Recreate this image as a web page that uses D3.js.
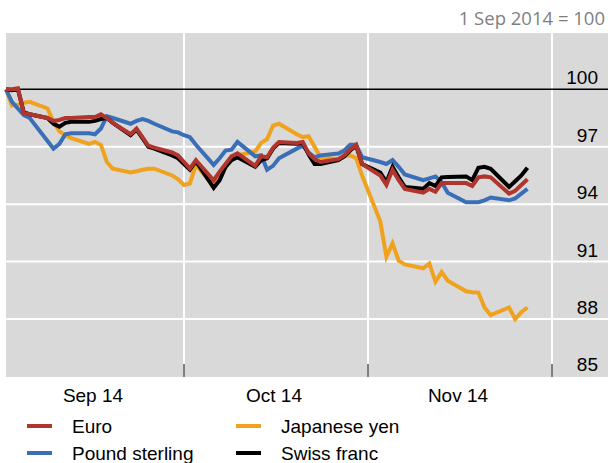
<!DOCTYPE html>
<html>
<head>
<meta charset="utf-8">
<script src="https://cdn.jsdelivr.net/npm/d3@7"></script>
<style>
  body { margin: 0; background: #fff; }
  svg { display: block; font-family: "Liberation Sans", Arial, sans-serif; }
</style>
</head>
<body>
<svg id="chart" width="608" height="463"></svg>
<script>
// business days, 1 Sep 2014 to 27 Nov 2014
const dates = d3.timeDay
  .range(new Date(2014, 8, 1), new Date(2014, 10, 28))
  .filter(d => d.getDay() !== 0 && d.getDay() !== 6);

const euro = [
  100.0, 100.0, 100.05, 98.75, 98.7, 98.5, 98.35, 98.4, 98.5, 98.5, 98.55,
  98.55, 98.7, 98.5, 98.25, 97.65, 97.95, 97.5, 97.05, 96.95, 96.7, 96.55,
  96.2, 95.86, 96.3, 95.25, 95.7, 96.1, 96.5, 96.65, 96.0, 96.5, 96.45,
  96.95, 97.25, 97.2, 97.25, 96.65, 96.35, 96.2, 96.35, 96.55, 96.85,
  97.1, 96.1,
  95.5, 95.0, 95.8, 95.25, 94.8, 94.6, 94.8, 94.65, 95.1, 95.1, 95.1,
  94.95, 95.4, 95.45, 95.4, 94.55, 94.7, 95.0, 95.3
];
const yen = [
  100.0, 99.15, 99.2, 99.3, 99.35, 99.0, 98.3, 97.8, 97.6, 97.45, 97.15,
  97.25, 97.1, 96.2, 95.85, 95.65, 95.72, 95.8, 95.85, 95.85, 95.5, 95.3,
  95.0, 95.08, 96.05, 94.95, 95.5, 95.95, 96.35, 96.55, 96.75, 97.2, 97.4,
  98.1, 98.2, 97.65, 97.5, 97.55, 97.0, 96.45, 96.35, 96.5, 96.55, 96.4,
  95.5,
  93.1, 91.25, 91.95, 91.05, 90.85, 90.65, 90.9, 89.95, 90.45, 90.0, 89.45,
  89.4, 89.38, 88.6, 88.2, 88.6, 88.0, 88.35, 88.6
];
const sterling = [
  100.0, 99.35, 99.0, 98.65, 98.5, 97.3, 96.9, 97.15, 97.65, 97.7, 97.7,
  97.65, 97.95, 98.6, 98.5, 98.2, 98.35, 98.45, 98.35, 98.2, 97.8, 97.75,
  97.6, 97.5, 97.1, 96.05, 96.4, 96.8, 96.85, 97.25, 96.5, 96.55, 95.8,
  96.0, 96.4, 96.9, 97.05, 96.7, 96.45, 96.55, 96.65, 96.8, 97.1, 97.1,
  96.45,
  96.2, 96.1, 96.3, 95.95, 95.55, 95.25, 95.35, 95.45, 95.15, 94.6, 94.1,
  94.1, 94.1, 94.2, 94.35, 94.2, 94.3, 94.55, 94.8
];
const franc = [
  100.0, 99.95, 100.0, 98.8, 98.7, 98.5, 98.2, 98.05, 98.25, 98.3, 98.3,
  98.35, 98.45, 98.5, 98.25, 97.6, 97.9, 97.45, 97.0, 96.9, 96.55, 96.4,
  96.1, 95.8, 96.25, 94.85, 95.25, 95.95, 96.3, 96.45, 95.95, 96.3, 96.4,
  96.9, 97.2, 97.15, 97.2, 96.6, 96.1, 96.1, 96.3, 96.5, 96.8, 97.05,
  96.1,
  95.65, 95.15, 95.95, 95.4, 94.9, 94.8, 95.1, 94.95, 95.4, 95.42, 95.45,
  95.25, 95.9, 95.95, 95.85, 94.9, 95.2, 95.5, 95.9
];

const seriesNames = ["Euro", "Japanese yen", "Pound sterling", "Swiss franc"];
const seriesColors = ["#b1352f", "#f0a21f", "#3a6fb7", "#000000"];
const seriesValues = [euro, yen, sterling, franc];
const drawOrder = [1, 2, 3, 0];

const yTicks = [85, 88, 91, 94, 97, 100];
const monthStarts = [new Date(2014, 8, 1), new Date(2014, 9, 1), new Date(2014, 10, 1), new Date(2014, 11, 1)];
const monthLabels = ["Sep 14", "Oct 14", "Nov 14"];

const svg = d3.select("#chart");

const x = d3.scaleTime()
  .domain(monthStarts)
  .range([6, 184, 368, 552]);
const y = d3.scaleLinear().domain([85, 103]).range([376.4, 31.9]);

// plot background
svg.append("rect")
  .attr("x", 6).attr("y", 33)
  .attr("width", 602).attr("height", 344)
  .attr("fill", "#d9d9d9");

// horizontal gridlines
svg.append("g")
  .selectAll("line")
  .data(yTicks.filter(t => t > 85 && t < 100))
  .enter()
  .append("line")
  .attr("x1", 6).attr("x2", 608)
  .attr("y1", d => y(d)).attr("y2", d => y(d))
  .attr("stroke", "#fff")
  .attr("stroke-width", 2);

// vertical month lines
svg.append("g")
  .selectAll("line")
  .data(monthStarts.slice(1))
  .enter()
  .append("line")
  .attr("x1", d => x(d)).attr("x2", d => x(d))
  .attr("y1", 33).attr("y2", 377)
  .attr("stroke", "#fff")
  .attr("stroke-width", 2);

// month tick marks
svg.append("g")
  .selectAll("line")
  .data(monthStarts.slice(1))
  .enter()
  .append("line")
  .attr("x1", d => x(d)).attr("x2", d => x(d))
  .attr("y1", 364).attr("y2", 377)
  .attr("stroke", "#000")
  .attr("stroke-width", 1);

// 100 reference line
svg.append("line")
  .attr("x1", 6).attr("x2", 608)
  .attr("y1", y(100)).attr("y2", y(100))
  .attr("stroke", "#000")
  .attr("stroke-width", 1.5);

// y labels on the right
svg.append("g")
  .selectAll("text")
  .data(yTicks)
  .enter()
  .append("text")
  .attr("x", 598)
  .attr("y", d => y(d) - 5)
  .attr("text-anchor", "end")
  .attr("font-size", 19)
  .attr("fill", "#000")
  .text(d => d);

svg.append("text")
  .attr("x", 605).attr("y", 25)
  .attr("text-anchor", "end")
  .attr("font-family", "'Open Sans', sans-serif")
  .attr("font-size", 18.5)
  .attr("fill", "#7f7f7f")
  .text("1 Sep 2014 = 100");

// month labels
svg.append("g")
  .selectAll("text")
  .data(monthLabels)
  .enter()
  .append("text")
  .attr("x", (d, i) => (x(monthStarts[i]) + x(monthStarts[i + 1])) / 2 - 2)
  .attr("y", 402)
  .attr("text-anchor", "middle")
  .attr("font-size", 19)
  .text(d => d);

// series lines
const line = d3.line()
  .x((d, i) => x(dates[i]))
  .y(d => y(d))
  .curve(d3.curveLinear);

svg.append("g")
  .selectAll("path")
  .data(drawOrder)
  .enter()
  .append("path")
  .attr("d", k => line(seriesValues[k]))
  .attr("fill", "none")
  .attr("stroke", k => seriesColors[k])
  .attr("stroke-width", 4)
  .attr("stroke-linejoin", "miter");

// legend
const legend = svg.append("g")
  .selectAll("g")
  .data(seriesNames)
  .enter()
  .append("g")
  .attr("transform", (d, i) => "translate(" + (i % 2 === 0 ? 27 : 236) + " " + (i < 2 ? 426 : 453) + ")");

legend.append("line")
  .attr("x1", 0).attr("x2", 25)
  .attr("stroke", (d, i) => seriesColors[i])
  .attr("stroke-width", 4);

legend.append("text")
  .attr("x", 45)
  .attr("y", 7)
  .attr("font-size", 19)
  .text(d => d);
</script>
</body>
</html>
